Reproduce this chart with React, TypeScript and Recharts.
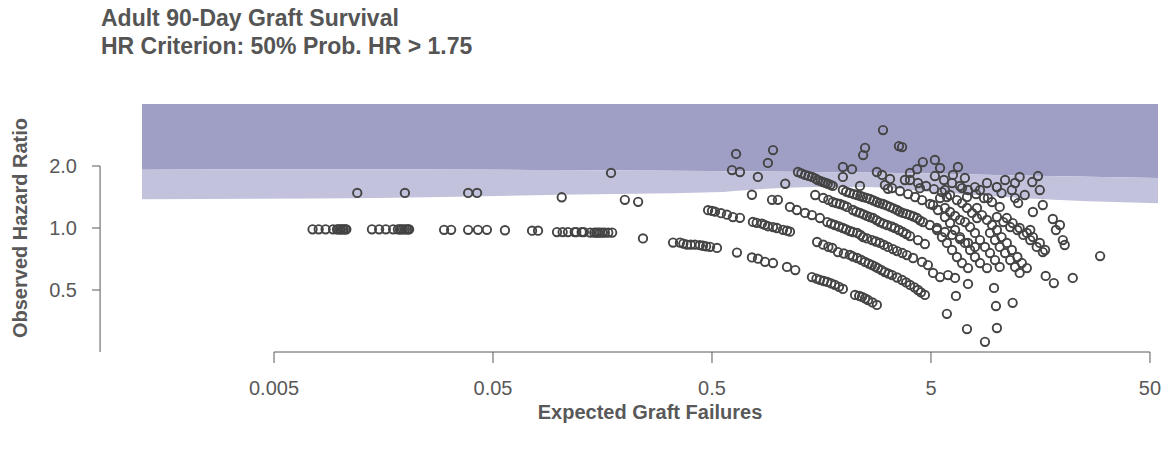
import React from "react";
import { ComposedChart, Area, Scatter, XAxis, YAxis, ReferenceLine } from "recharts";

// axis ticks
const xTicks = [0.005, 0.05, 0.5, 5, 50];
const xTickLabels = ["0.005", "0.05", "0.5", "5", "50"];
const yTicks = [0.5, 1, 2];
const yTickLabels = ["0.5", "1.0", "2.0"];

const X_MIN = 0.001248;
const X_MAX = 54.4;
const Y_MIN = 0.25;
const Y_MAX = 4;
const Y_AXIS_AT = 0.000803; // where the offset y axis line sits (in expected units)

// flagging bands: dark = upper region, light = criterion region
const bandExpected = [0.001248, 0.015, 0.1, 0.5, 0.8, 1.5, 2.5, 5, 12.7, 54.4];
const darkLower = [1.92, 1.93, 1.91, 1.89, 1.88, 1.87, 1.86, 1.84, 1.8, 1.75];
const lightLower = [1.38, 1.4, 1.45, 1.49, 1.54, 1.58, 1.58, 1.5, 1.4, 1.32];

// [expected, observed HR] by row of points
const zeroEvents = [
  [0.0075, 0.985], [0.008, 0.985], [0.0086, 0.985], [0.0093, 0.985], [0.0097, 0.985], [0.0098, 0.985], [0.01, 0.985],
  [0.0101, 0.985], [0.0103, 0.985], [0.0104, 0.985], [0.0106, 0.985], [0.0107, 0.985],
  [0.014, 0.985], [0.0151, 0.985], [0.0162, 0.985], [0.0175, 0.985], [0.0184, 0.985], [0.0188, 0.985], [0.019, 0.985],
  [0.0194, 0.985], [0.0198, 0.985], [0.0202, 0.985], [0.0205, 0.985], [0.0207, 0.985],
  [0.0299, 0.98], [0.0322, 0.98], [0.0385, 0.98], [0.0427, 0.98], [0.0469, 0.98], [0.0567, 0.975], [0.0754, 0.97], [0.0803, 0.97],
  [0.098, 0.955], [0.104, 0.955], [0.11, 0.955], [0.118, 0.955], [0.12, 0.955], [0.127, 0.955], [0.13, 0.955], [0.139, 0.95],
  [0.145, 0.95], [0.148, 0.95], [0.151, 0.95], [0.154, 0.95], [0.158, 0.95], [0.162, 0.95], [0.168, 0.95], [0.175, 0.95],
  [0.242, 0.89], [0.332, 0.85], [0.357, 0.85], [0.37, 0.84], [0.384, 0.83], [0.4, 0.83], [0.418, 0.83], [0.44, 0.825],
  [0.455, 0.82], [0.47, 0.815], [0.49, 0.81], [0.527, 0.8],
  [0.65, 0.76], [0.761, 0.72], [0.811, 0.71], [0.873, 0.685], [0.95, 0.676], [1.1, 0.647], [1.2, 0.625],
  [1.43, 0.578], [1.5, 0.568], [1.556, 0.56], [1.62, 0.553], [1.68, 0.547], [1.75, 0.538], [1.82, 0.53], [1.9, 0.518],
  [1.98, 0.506], [2.25, 0.473], [2.35, 0.468], [2.42, 0.463], [2.5, 0.455], [2.58, 0.447], [2.7, 0.435], [2.83, 0.423],
];

const oneEvent = [
  [0.012, 1.48], [0.0198, 1.48], [0.0385, 1.48], [0.0423, 1.48], [0.103, 1.41], [0.2, 1.37], [0.23, 1.34],
  [0.48, 1.22], [0.5, 1.21], [0.516, 1.2], [0.55, 1.18], [0.585, 1.16], [0.623, 1.13], [0.671, 1.12],
  [0.769, 1.07], [0.8, 1.06], [0.845, 1.05], [0.87, 1.035], [0.9, 1.02], [0.95, 1.01], [0.99, 1.0], [1.055, 0.98],
  [1.1, 0.97], [1.135, 0.96],
  [1.51, 0.855], [1.61, 0.83], [1.7, 0.81], [1.77, 0.8], [1.88, 0.764], [2.0, 0.752], [2.13, 0.74], [2.2, 0.727],
  [2.3, 0.715], [2.4, 0.7], [2.5, 0.684], [2.6, 0.672], [2.69, 0.661], [2.78, 0.65], [2.86, 0.639], [2.97, 0.625],
  [3.08, 0.611], [3.2, 0.6], [3.32, 0.591], [3.5, 0.575], [3.69, 0.559], [3.85, 0.544], [4.01, 0.529], [4.2, 0.515],
  [4.36, 0.5], [4.5, 0.487], [4.69, 0.473],
  [5.91, 0.383], [7.3, 0.323], [8.82, 0.28],
];

const twoEvents = [
  [0.173, 1.85], [0.761, 1.45], [0.94, 1.37], [1.0, 1.37],
  [1.135, 1.265], [1.22, 1.223], [1.33, 1.183], [1.43, 1.156], [1.556, 1.118], [1.68, 1.069], [1.75, 1.05], [1.82, 1.034],
  [1.9, 1.017], [1.98, 1.0], [2.05, 0.985], [2.13, 0.967], [2.2, 0.956], [2.3, 0.946], [2.38, 0.925], [2.45, 0.904],
  [2.55, 0.89], [2.69, 0.874], [2.8, 0.86], [2.92, 0.846], [3.05, 0.828], [3.18, 0.809], [3.35, 0.79], [3.5, 0.773],
  [3.7, 0.756], [3.88, 0.739], [4.14, 0.715], [4.55, 0.684], [4.84, 0.661], [5.11, 0.605], [5.5, 0.578], [5.98, 0.591],
  [6.44, 0.572],
];

const threeEvents = [
  [0.617, 1.91], [0.671, 1.87], [0.81, 1.77], [1.08, 1.64],
  [1.48, 1.446], [1.61, 1.4], [1.7, 1.37], [1.78, 1.337], [1.85, 1.32], [1.92, 1.308], [2.0, 1.287], [2.07, 1.265],
  [2.2, 1.223], [2.28, 1.2], [2.37, 1.183], [2.46, 1.164], [2.55, 1.144], [2.63, 1.13], [2.72, 1.118], [2.82, 1.093],
  [2.92, 1.069], [3.03, 1.05], [3.15, 1.034], [3.3, 1.017], [3.42, 1.0], [3.57, 0.978], [3.72, 0.956], [3.86, 0.935],
  [4.01, 0.914], [4.36, 0.874], [4.69, 0.836],
];

const fourEvents = [
  [1.235, 1.87], [1.28, 1.84], [1.33, 1.81], [1.38, 1.79], [1.43, 1.77], [1.48, 1.74], [1.52, 1.71], [1.57, 1.69],
  [1.61, 1.67], [1.65, 1.655], [1.69, 1.64], [1.74, 1.62], [1.78, 1.6],
  [1.98, 1.53], [2.05, 1.5], [2.13, 1.48], [2.22, 1.46], [2.3, 1.446], [2.38, 1.43], [2.45, 1.414], [2.54, 1.4],
  [2.63, 1.383], [2.73, 1.36], [2.83, 1.337], [2.92, 1.32], [3.02, 1.308], [3.13, 1.287], [3.25, 1.265], [3.37, 1.244],
  [3.5, 1.223], [3.6, 1.2], [3.72, 1.183], [3.86, 1.17], [4.01, 1.156], [4.16, 1.137], [4.32, 1.118], [4.45, 1.09],
  [4.6, 1.069], [4.94, 1.034], [5.32, 1.0], [5.79, 0.956], [6.24, 0.925], [6.79, 0.884], [7.38, 0.846], [7.94, 0.809],
];

const manyEvents = [
  [3.08, 1.617], [3.32, 1.563], [3.61, 1.512], [3.93, 1.462], [4.23, 1.414], [4.55, 1.367], [4.95, 1.308],
  [4.01, 1.71], [4.36, 1.654], [4.75, 1.599], [5.16, 1.546], [5.61, 1.495], [6.11, 1.446],
  [5.21, 1.788], [5.73, 1.71], [6.24, 1.654], [6.78, 1.599], [7.38, 1.529], [8.03, 1.462], [8.73, 1.398], [9.5, 1.337],
  [5.79, 1.251], [6.11, 1.196], [6.44, 1.144], [6.78, 1.094], [7.15, 1.069], [16.2, 1.293],
  [5.11, 1.293], [5.38, 1.223], [5.79, 1.131], [6.11, 1.057], [6.44, 0.978], [6.78, 0.904], [7.15, 0.846], [7.54, 0.782],
  [7.94, 0.723], [8.37, 0.676], [9.01, 0.639],
  [5.33, 0.978], [5.61, 0.904], [5.91, 0.846], [6.24, 0.782], [6.57, 0.723], [6.93, 0.676], [7.38, 0.639],
  [8.11, 1.251], [8.55, 1.156], [9.01, 1.094], [9.5, 1.034], [10.0, 0.978], [10.5, 0.904], [11.1, 0.846], [11.7, 0.782],
  [12.4, 0.723], [13.0, 0.676], [13.7, 0.639],
  [10.0, 1.131], [10.7, 1.069], [11.5, 1.011], [12.4, 0.978], [13.2, 0.925], [14.2, 0.874], [15.2, 0.809], [16.2, 0.764],
  [9.3, 0.946], [9.8, 0.874], [10.3, 0.809], [10.9, 0.756], [11.5, 0.699], [12.1, 0.647], [12.7, 0.605],
  [11.1, 1.118], [11.8, 1.057], [12.7, 1.0], [13.7, 0.946], [14.2, 0.978], [14.6, 0.904], [15.7, 0.846], [16.6, 0.782],
  [7.54, 1.011], [7.94, 0.946], [8.37, 0.874], [8.82, 0.809], [9.3, 0.756], [9.8, 0.699], [10.3, 0.647],
  [5.79, 1.529], [5.5, 1.398], [5.91, 1.414], [6.93, 1.563], [7.3, 1.414], [6.57, 1.367], [6.93, 1.322], [7.3, 1.251],
  [7.7, 1.183], [8.11, 1.118],
  [12.1, 1.654], [11.7, 1.529], [12.1, 1.398], [12.5, 1.322], [13.4, 1.446], [10.0, 1.581], [10.5, 1.478], [10.3, 1.265],
  [7.94, 1.581], [8.37, 1.529], [9.1, 1.398], [14.6, 1.196], [12.7, 1.769], [15.4, 1.788], [15.7, 1.529],
];

const outliers = [
  [0.644, 2.29], [0.95, 2.39], [0.9, 2.07], [3.02, 2.99], [3.57, 2.5], [2.5, 2.45], [2.45, 2.26],
  [1.98, 1.98], [2.18, 1.93], [1.98, 1.77], [2.37, 1.6], [2.83, 1.87], [2.99, 1.81], [3.25, 1.73],
  [3.8, 1.71], [4.01, 1.85], [4.32, 1.93], [4.59, 2.09], [4.45, 1.56], [3.18, 1.55],
  [6.3, 1.81], [7.14, 1.75], [10.0, 1.58], [3.69, 2.47], [5.21, 2.14], [5.5, 1.956], [6.64, 1.978],
  [9.01, 1.654], [10.9, 1.71], [14.5, 1.672],
  [29.6, 0.731], [22.2, 0.572], [16.7, 0.585], [18.2, 0.54], [20.0, 0.874], [20.4, 0.827], [18.0, 1.106],
  [19.4, 1.034], [18.6, 0.978], [9.7, 0.512], [6.5, 0.468], [7.38, 0.535], [9.9, 0.418], [11.8, 0.433], [10.0, 0.327],
];

const bandData = bandExpected.map((E, i) => ({
  E,
  dark: [darkLower[i], Y_MAX],
  light: [lightLower[i], darkLower[i]],
}));

const points = [...zeroEvents, ...oneEvent, ...twoEvents, ...threeEvents, ...fourEvents, ...manyEvents, ...outliers].map(
  ([E, HR]) => ({ E, HR })
);

const TEXT = "#595959";

function YTick({ x, y, payload }: { x?: number; y?: number; payload?: { value: number } }) {
  const label = yTickLabels[yTicks.indexOf(payload!.value)];
  return (
    <g>
      <line x1={x! - 50} x2={x! - 42} y1={y} y2={y} stroke={TEXT} strokeWidth={1} />
      <text x={x! - 65} y={y} dy="0.35em" textAnchor="end" fontSize={20} fill={TEXT}>
        {label}
      </text>
    </g>
  );
}

function OpenCircle(props: { cx?: number; cy?: number }) {
  return <circle cx={props.cx} cy={props.cy} r={4.2} fill="none" stroke="#444444" strokeWidth={1.9} />;
}

export default function App() {
  return (
    <div
      style={{
        position: "relative",
        width: 1166,
        height: 451,
        background: "#fff",
        fontFamily: '"Liberation Sans", Arial, sans-serif',
      }}
    >
      <style>{"body{margin:0}"}</style>
      <div
        style={{
          position: "absolute",
          left: 101,
          top: 4,
          fontSize: 23,
          lineHeight: "28px",
          fontWeight: 700,
          color: "#555555",
          whiteSpace: "nowrap",
        }}
      >
        <div>Adult 90-Day Graft Survival</div>
        <div>HR Criterion: 50% Prob. HR &gt; 1.75</div>
      </div>

      <ComposedChart
        width={1166}
        height={451}
        data={bandData}
        margin={{ top: 104, right: 8, bottom: 0, left: 0 }}
      >
        <XAxis
          dataKey="E"
          type="number"
          scale="log"
          domain={[X_MIN, X_MAX]}
          allowDataOverflow
          ticks={xTicks}
          interval={0}
          tickFormatter={(v: number) => xTickLabels[xTicks.indexOf(v)]}
          axisLine={false}
          tickLine={{ stroke: TEXT }}
          tickSize={11}
          tickMargin={18}
          height={99}
          tick={{ fill: TEXT, fontSize: 20 }}
        />
        <YAxis
          dataKey="HR"
          type="number"
          scale="log"
          domain={[Y_MIN, Y_MAX]}
          allowDataOverflow
          ticks={yTicks}
          interval={0}
          width={142}
          axisLine={false}
          tickLine={false}
          tickSize={0}
          tickMargin={0}
          tick={<YTick />}
        />
        <Area
          type="monotone"
          dataKey="dark"
          stroke="none"
          fill="#9f9fc5"
          fillOpacity={1}
          isAnimationActive={false}
        />
        <Area
          type="monotone"
          dataKey="light"
          stroke="none"
          fill="#c2c2dd"
          fillOpacity={1}
          isAnimationActive={false}
        />
        <ReferenceLine
          segment={[{ x: xTicks[0], y: Y_MIN }, { x: xTicks[xTicks.length - 1], y: Y_MIN }]}
          stroke={TEXT}
          ifOverflow="visible"
        />
        <ReferenceLine
          segment={[{ x: Y_AXIS_AT, y: yTicks[yTicks.length - 1] }, { x: Y_AXIS_AT, y: Y_MIN }]}
          stroke={TEXT}
          ifOverflow="visible"
        />
        <Scatter data={points} dataKey="HR" shape={<OpenCircle />} isAnimationActive={false} />
      </ComposedChart>

      <div
        style={{
          position: "absolute",
          left: 20,
          top: 228,
          transform: "translate(-50%, -50%) rotate(-90deg)",
          fontSize: 20,
          fontWeight: 700,
          color: TEXT,
          whiteSpace: "nowrap",
        }}
      >
        Observed Hazard Ratio
      </div>
      <div
        style={{
          position: "absolute",
          left: 650,
          top: 412,
          transform: "translate(-50%, -50%)",
          fontSize: 20,
          fontWeight: 700,
          color: TEXT,
          whiteSpace: "nowrap",
        }}
      >
        Expected Graft Failures
      </div>
    </div>
  );
}
